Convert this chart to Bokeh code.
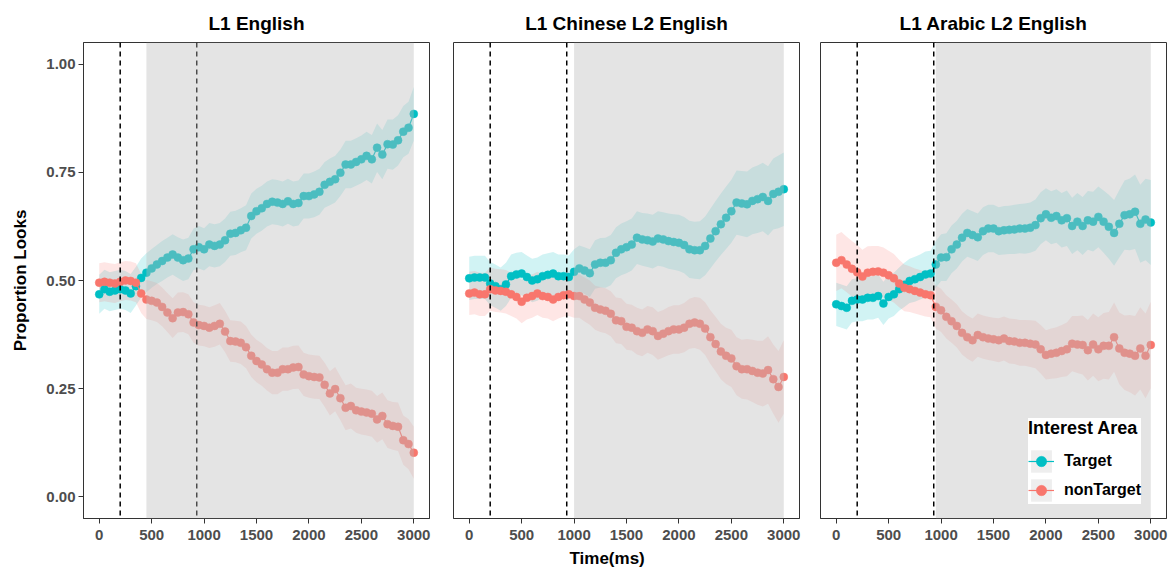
from bokeh.plotting import figure
from bokeh.layouts import row
from bokeh.models import (Range1d, BoxAnnotation, Span, Legend, LegendItem, Title,
                          ColumnDataSource, FixedTicker, NumeralTickFormatter)
from bokeh.embed import file_html
from bokeh.resources import INLINE

# ---------------- data ----------------
time_ms = list(range(0, 3001, 50))
panel_titles = ["L1 English", "L1 Chinese L2 English", "L1 Arabic L2 English"]
region_start = [450, 1000, 950]
region_end = [3000, 3000, 3000]
onset_lines = [200, 930]
series_names = ["Target", "nonTarget"]
x_ticks = [0, 500, 1000, 1500, 2000, 2500, 3000]
y_ticks = [0.0, 0.25, 0.5, 0.75, 1.0]

p1_target = [0.468, 0.480, 0.474, 0.477, 0.480, 0.477, 0.470, 0.487, 0.506, 0.518,
             0.528, 0.537, 0.545, 0.553, 0.560, 0.553, 0.547, 0.551, 0.572, 0.577,
             0.572, 0.583, 0.580, 0.583, 0.593, 0.608, 0.610, 0.616, 0.622, 0.649,
             0.660, 0.667, 0.677, 0.682, 0.680, 0.677, 0.683, 0.677, 0.679, 0.695,
             0.695, 0.699, 0.705, 0.721, 0.728, 0.734, 0.749, 0.768, 0.768, 0.774,
             0.780, 0.788, 0.780, 0.807, 0.791, 0.815, 0.814, 0.824, 0.844, 0.853, 0.885]
p1_nontarget = [0.495, 0.497, 0.495, 0.493, 0.497, 0.500, 0.499, 0.495, 0.470, 0.456,
                0.453, 0.449, 0.439, 0.426, 0.413, 0.426, 0.427, 0.422, 0.403, 0.397,
                0.395, 0.391, 0.395, 0.400, 0.382, 0.360, 0.359, 0.356, 0.346, 0.326,
                0.314, 0.306, 0.295, 0.287, 0.287, 0.295, 0.295, 0.299, 0.300, 0.283,
                0.279, 0.277, 0.276, 0.259, 0.239, 0.249, 0.228, 0.206, 0.210, 0.200,
                0.197, 0.195, 0.192, 0.179, 0.187, 0.168, 0.164, 0.162, 0.131, 0.122, 0.102]
p2_target = [0.505, 0.507, 0.507, 0.507, 0.493, 0.487, 0.480, 0.491, 0.510, 0.514,
             0.516, 0.508, 0.500, 0.503, 0.510, 0.513, 0.516, 0.510, 0.510, 0.508,
             0.520, 0.528, 0.523, 0.517, 0.537, 0.541, 0.541, 0.547, 0.564, 0.572,
             0.577, 0.583, 0.599, 0.595, 0.593, 0.590, 0.597, 0.595, 0.591, 0.589,
             0.587, 0.582, 0.572, 0.570, 0.570, 0.580, 0.597, 0.614, 0.630, 0.645,
             0.660, 0.680, 0.678, 0.676, 0.684, 0.688, 0.693, 0.684, 0.700, 0.705, 0.711]
p2_nontarget = [0.470, 0.472, 0.468, 0.468, 0.480, 0.477, 0.476, 0.474, 0.468, 0.462,
                0.451, 0.460, 0.464, 0.470, 0.464, 0.462, 0.456, 0.462, 0.466, 0.468,
                0.464, 0.464, 0.456, 0.449, 0.437, 0.433, 0.430, 0.423, 0.408, 0.406,
                0.393, 0.391, 0.383, 0.379, 0.387, 0.383, 0.372, 0.377, 0.383, 0.387,
                0.387, 0.391, 0.400, 0.403, 0.400, 0.389, 0.369, 0.353, 0.336, 0.326,
                0.320, 0.302, 0.295, 0.295, 0.291, 0.287, 0.285, 0.293, 0.272, 0.254, 0.277]
p3_target = [0.445, 0.441, 0.437, 0.453, 0.456, 0.456, 0.460, 0.460, 0.464, 0.447,
             0.462, 0.468, 0.480, 0.490, 0.499, 0.503, 0.508, 0.514, 0.516, 0.537,
             0.553, 0.554, 0.572, 0.583, 0.599, 0.610, 0.605, 0.600, 0.614, 0.620,
             0.620, 0.614, 0.616, 0.617, 0.618, 0.620, 0.620, 0.622, 0.628, 0.644,
             0.653, 0.645, 0.649, 0.639, 0.644, 0.626, 0.636, 0.626, 0.639, 0.636,
             0.647, 0.636, 0.624, 0.610, 0.631, 0.651, 0.653, 0.659, 0.631, 0.641, 0.634]
p3_nontarget = [0.541, 0.547, 0.537, 0.527, 0.519, 0.509, 0.518, 0.520, 0.521, 0.518,
                0.512, 0.505, 0.493, 0.483, 0.480, 0.476, 0.472, 0.468, 0.466, 0.439,
                0.431, 0.416, 0.406, 0.395, 0.379, 0.369, 0.362, 0.374, 0.369, 0.366,
                0.364, 0.362, 0.366, 0.360, 0.359, 0.356, 0.356, 0.354, 0.352, 0.341,
                0.328, 0.331, 0.333, 0.337, 0.341, 0.354, 0.352, 0.351, 0.339, 0.352,
                0.341, 0.349, 0.349, 0.369, 0.343, 0.333, 0.331, 0.326, 0.343, 0.326, 0.351]

# confidence-band half widths
p1_target_hw = [0.045, 0.045, 0.045, 0.045, 0.045, 0.045, 0.045, 0.045, 0.045, 0.045,
                0.045, 0.045, 0.046, 0.046, 0.047, 0.047, 0.048, 0.048, 0.048, 0.049,
                0.049, 0.050, 0.050, 0.050, 0.050, 0.051, 0.051, 0.051, 0.052, 0.052,
                0.052, 0.052, 0.052, 0.052, 0.052, 0.052, 0.052, 0.052, 0.052, 0.052,
                0.052, 0.053, 0.053, 0.053, 0.054, 0.054, 0.054, 0.055, 0.055, 0.055,
                0.055, 0.056, 0.056, 0.056, 0.057, 0.057, 0.058, 0.058, 0.059, 0.060, 0.062]
p1_nontarget_hw = [0.045, 0.045, 0.045, 0.045, 0.045, 0.045, 0.045, 0.045, 0.045, 0.045,
                   0.045, 0.045, 0.045, 0.045, 0.046, 0.046, 0.046, 0.046, 0.047, 0.047,
                   0.047, 0.047, 0.048, 0.048, 0.048, 0.048, 0.048, 0.049, 0.049, 0.049,
                   0.049, 0.049, 0.049, 0.050, 0.050, 0.050, 0.050, 0.050, 0.050, 0.050,
                   0.050, 0.050, 0.050, 0.051, 0.051, 0.051, 0.051, 0.052, 0.052, 0.052,
                   0.053, 0.053, 0.053, 0.054, 0.054, 0.055, 0.055, 0.056, 0.057, 0.058, 0.060]
p2_target_hw = [0.050, 0.050, 0.050, 0.050, 0.050, 0.050, 0.050, 0.050, 0.050, 0.050,
                0.050, 0.050, 0.050, 0.050, 0.050, 0.050, 0.050, 0.050, 0.050, 0.050,
                0.052, 0.053, 0.054, 0.055, 0.056, 0.057, 0.058, 0.058, 0.059, 0.060,
                0.060, 0.060, 0.061, 0.061, 0.062, 0.062, 0.063, 0.063, 0.064, 0.064,
                0.065, 0.065, 0.066, 0.066, 0.067, 0.068, 0.069, 0.070, 0.071, 0.072,
                0.073, 0.074, 0.075, 0.076, 0.077, 0.078, 0.079, 0.080, 0.082, 0.084, 0.085]
p2_nontarget_hw = [0.050, 0.050, 0.050, 0.050, 0.050, 0.050, 0.050, 0.050, 0.050, 0.050,
                   0.050, 0.050, 0.050, 0.050, 0.050, 0.050, 0.050, 0.050, 0.050, 0.050,
                   0.050, 0.050, 0.051, 0.051, 0.051, 0.052, 0.052, 0.052, 0.053, 0.053,
                   0.053, 0.053, 0.054, 0.054, 0.054, 0.055, 0.055, 0.055, 0.056, 0.056,
                   0.056, 0.057, 0.058, 0.059, 0.060, 0.061, 0.062, 0.063, 0.064, 0.065,
                   0.066, 0.067, 0.068, 0.070, 0.072, 0.074, 0.076, 0.078, 0.080, 0.083, 0.085]
p3_target_hw = [0.050, 0.050, 0.050, 0.050, 0.050, 0.050, 0.050, 0.050, 0.050, 0.050,
                0.050, 0.050, 0.050, 0.051, 0.051, 0.052, 0.052, 0.053, 0.053, 0.054,
                0.054, 0.055, 0.055, 0.055, 0.055, 0.055, 0.055, 0.055, 0.055, 0.055,
                0.055, 0.055, 0.056, 0.056, 0.057, 0.057, 0.058, 0.058, 0.059, 0.060,
                0.060, 0.061, 0.062, 0.063, 0.064, 0.065, 0.066, 0.067, 0.068, 0.069,
                0.070, 0.072, 0.074, 0.076, 0.078, 0.080, 0.083, 0.086, 0.090, 0.094, 0.098]
p3_nontarget_hw = [0.065, 0.065, 0.064, 0.064, 0.063, 0.062, 0.061, 0.060, 0.059, 0.058,
                   0.057, 0.056, 0.055, 0.054, 0.053, 0.052, 0.052, 0.051, 0.051, 0.050,
                   0.050, 0.050, 0.050, 0.050, 0.050, 0.050, 0.050, 0.050, 0.050, 0.050,
                   0.050, 0.051, 0.051, 0.052, 0.052, 0.053, 0.053, 0.054, 0.055, 0.056,
                   0.057, 0.058, 0.059, 0.060, 0.062, 0.064, 0.066, 0.068, 0.070, 0.072,
                   0.074, 0.076, 0.078, 0.080, 0.083, 0.086, 0.089, 0.092, 0.095, 0.098, 0.100]

panels = [
    (p1_target, p1_target_hw, p1_nontarget, p1_nontarget_hw),
    (p2_target, p2_target_hw, p2_nontarget, p2_nontarget_hw),
    (p3_target, p3_target_hw, p3_nontarget, p3_nontarget_hw),
]

# ---------------- style ----------------
FONT = "Liberation Sans"
COLORS = {"Target": "#00BFC4", "nonTarget": "#F8766D"}
AXIS_COL = "#333333"
TICK_COL = "#4D4D4D"
borders = [(83, 12), (12, 10), (11, 4)]

figs = []
for i, (tv, thw, nv, nhw) in enumerate(panels):
    bl, br = borders[i]
    p = figure(frame_width=346, frame_height=476,
               x_range=Range1d(-150, 3150), y_range=Range1d(-0.05, 1.05),
               output_backend="svg", toolbar_location=None,
               min_border_left=bl, min_border_right=br,
               min_border_top=42, min_border_bottom=50,
               title=panel_titles[i])
    p.title.align = "center"
    p.title.text_font = FONT
    p.title.text_font_size = "19px"
    p.title.text_font_style = "bold"
    p.title.text_color = "black"
    p.title.standoff = 18

    p.grid.visible = False
    p.background_fill_color = "white"
    p.border_fill_color = "white"
    p.outline_line_color = AXIS_COL
    p.outline_line_width = 1
    p.outline_line_alpha = 1

    srcs = {}
    for name, vals, hw in (("Target", tv, thw), ("nonTarget", nv, nhw)):
        lo = [v - h for v, h in zip(vals, hw)]
        hi = [v + h for v, h in zip(vals, hw)]
        src = ColumnDataSource(dict(t=time_ms, y=vals, lo=lo, hi=hi))
        p.varea(x="t", y1="lo", y2="hi", source=src, fill_color=COLORS[name], fill_alpha=0.18)
        srcs[name] = src
    line_r = {}
    dot_r = {}
    for name in series_names:
        src = srcs[name]
        line_r[name] = p.line(x="t", y="y", source=src, line_color=COLORS[name], line_width=1.2)
        dot_r[name] = p.scatter(x="t", y="y", source=src, size=8, fill_color=COLORS[name],
                                line_color=COLORS[name], line_width=0.5)

    for t in onset_lines:
        p.add_layout(Span(location=t, dimension="height", line_color="black",
                          line_dash="5 4", line_width=1.5))

    p.add_layout(BoxAnnotation(left=region_start[i], right=region_end[i],
                               fill_color="#bcbcbc", fill_alpha=0.4, line_color=None))

    p.xaxis.ticker = FixedTicker(ticks=x_ticks)
    p.xaxis.axis_line_color = AXIS_COL
    p.xaxis.major_tick_line_color = AXIS_COL
    p.xaxis.major_tick_out = 5
    p.xaxis.major_tick_in = 0
    p.xaxis.minor_tick_line_color = None
    p.xaxis.major_label_text_font = FONT
    p.xaxis.major_label_text_font_size = "15px"
    p.xaxis.major_label_text_font_style = "bold"
    p.xaxis.major_label_text_color = TICK_COL
    p.xaxis.major_label_standoff = 6

    if i == 0:
        p.yaxis.ticker = FixedTicker(ticks=y_ticks)
        p.yaxis.formatter = NumeralTickFormatter(format="0.00")
        p.yaxis.axis_line_color = AXIS_COL
        p.yaxis.major_tick_line_color = AXIS_COL
        p.yaxis.major_tick_out = 5
        p.yaxis.major_tick_in = 0
        p.yaxis.minor_tick_line_color = None
        p.yaxis.major_label_text_font = FONT
        p.yaxis.major_label_text_font_size = "15px"
        p.yaxis.major_label_text_font_style = "bold"
        p.yaxis.major_label_text_color = TICK_COL
        p.yaxis.major_label_standoff = 3
        p.yaxis.axis_label = "Proportion Looks"
        p.yaxis.axis_label_text_font = FONT
        p.yaxis.axis_label_text_font_size = "17px"
        p.yaxis.axis_label_text_font_style = "bold"
        p.yaxis.axis_label_text_color = "black"
        p.yaxis.axis_label_standoff = 13
    else:
        p.yaxis.visible = False

    if i == 1:
        p.add_layout(Title(text="Time(ms)", align="left", offset=116, standoff=8,
                           text_font=FONT, text_font_size="17px", text_font_style="bold",
                           text_color="black"), "below")

    if i == 2:
        key_bg = p.quad(left=[region_start[i]], right=[region_end[i]], top=[0.0], bottom=[0.0],
                        fill_color="#EEEEEE", line_color=None, visible=False)
        items = [LegendItem(label=name, renderers=[key_bg, line_r[name], dot_r[name]])
                 for name in series_names]
        legend = Legend(items=items, title="Interest Area", location=(208, 14))
        legend.title_text_font = FONT
        legend.title_text_font_size = "18px"
        legend.title_text_font_style = "bold"
        legend.title_text_color = "black"
        legend.title_standoff = 8
        legend.label_text_font = FONT
        legend.label_text_font_size = "16px"
        legend.label_text_font_style = "bold"
        legend.label_text_color = "black"
        legend.background_fill_color = "white"
        legend.background_fill_alpha = 1
        legend.border_line_color = None
        legend.glyph_width = 26
        legend.glyph_height = 28
        legend.label_standoff = 10
        legend.spacing = 1
        legend.padding = 10
        legend.margin = 0
        p.add_layout(legend)

    figs.append(p)

layout = row(*figs)
open("out.html", "w").write(file_html(layout, INLINE))
